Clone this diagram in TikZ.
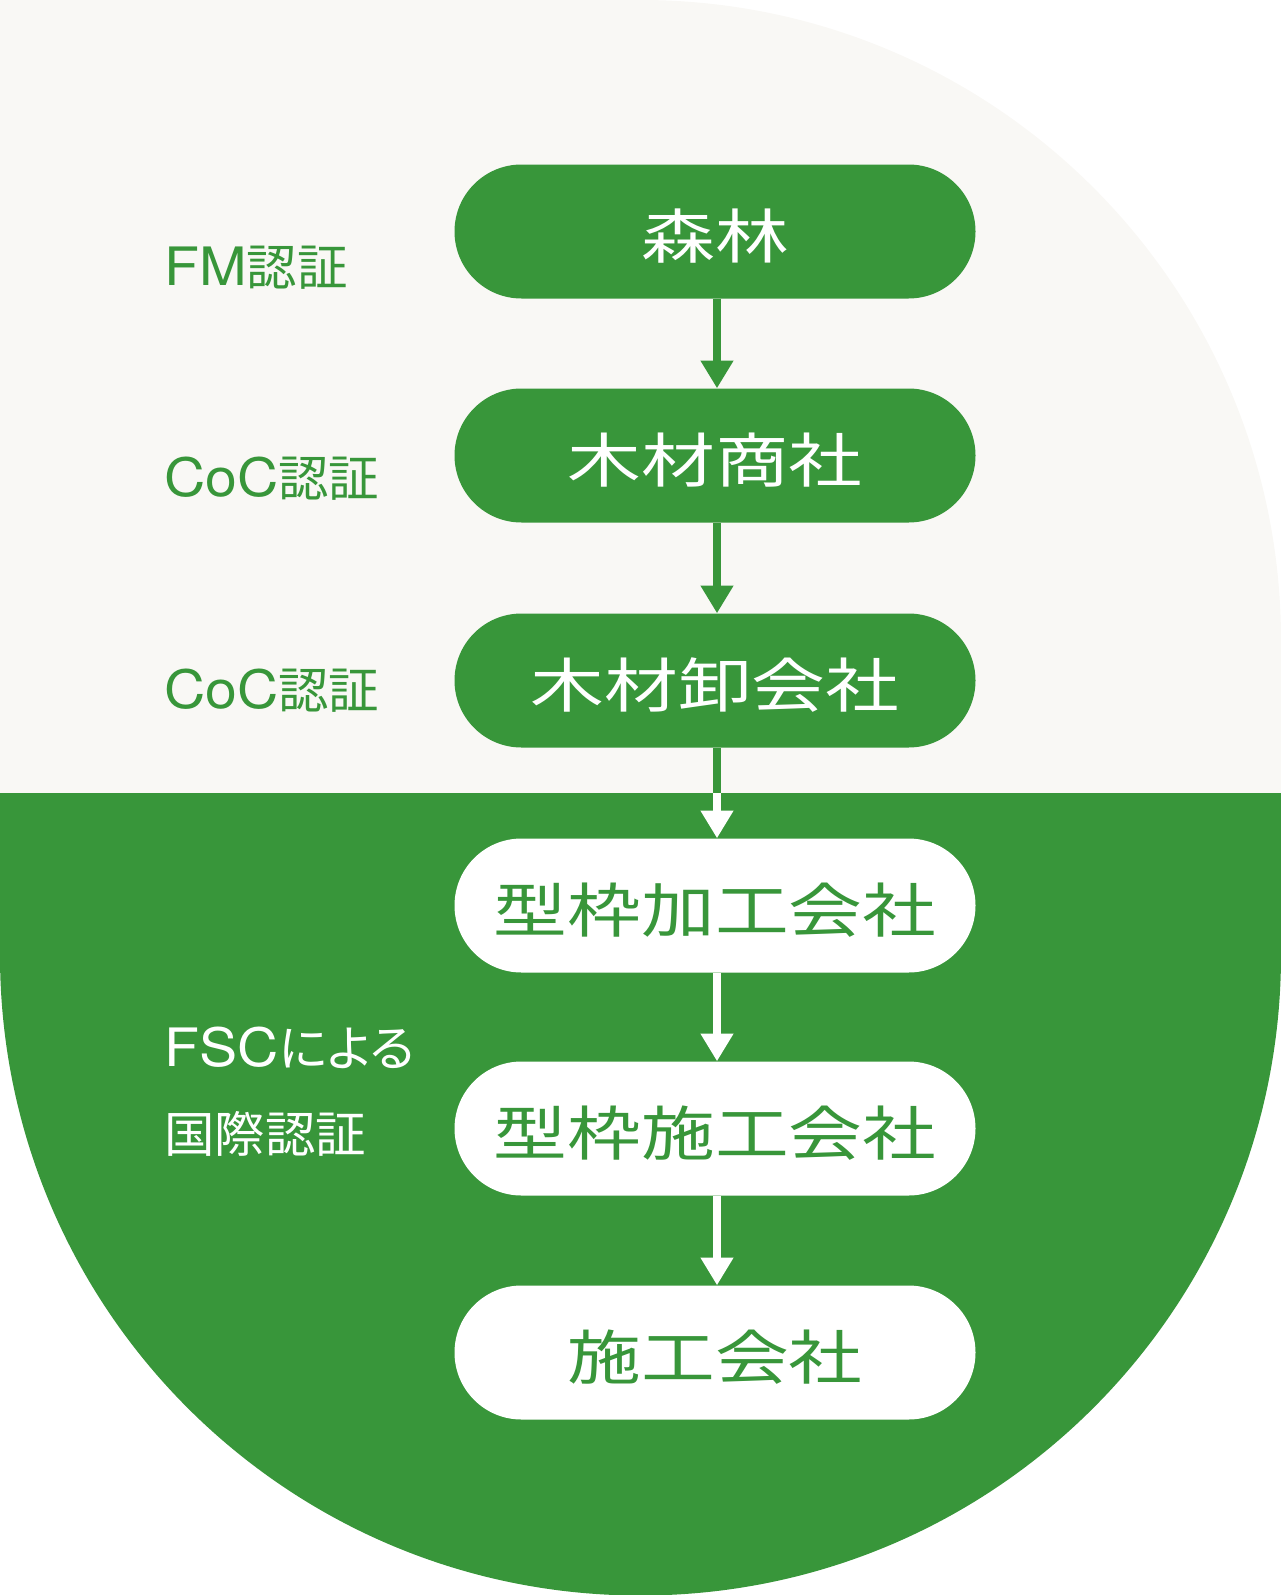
\documentclass[tikz,border=0pt]{standalone}
\usepackage{fontspec}
\usetikzlibrary{arrows.meta}
\newfontfamily\jpfont[RawFeature=+palt, FakeStretch=1.03]{Noto Sans CJK JP}
\newfontfamily\boxfont[FakeStretch=1.25]{Noto Sans CJK JP}
\newfontfamily\latinfont[Scale=1.08, FakeStretch=1.08]{TeX Gyre Heros}
\definecolor{leaf}{HTML}{38963A}
\definecolor{paper}{HTML}{F9F8F5}
\newcommand{\labfont}{\fontsize{49}{58}\selectfont\jpfont}
\newcommand{\namefont}{\fontsize{59}{70}\selectfont\boxfont}
\newcommand{\lowered}[1]{\raisebox{-5pt}[\height][\depth]{#1}}
\tikzstyle{upbox}=[rectangle, rounded corners=67pt, fill=leaf, text=white
,minimum width=521pt, minimum height=134pt
,inner sep=0pt, font=\namefont
]
\tikzstyle{lowbox}=[upbox, fill=white, text=leaf]
\tikzstyle{edge} = [line width=7.5pt, -{Triangle[width=31pt,length=27.6pt]}]
\tikzstyle{cert}=[anchor=base west, inner sep=0pt, font=\labfont]

\begin{document}
\begin{tikzpicture}[x=1pt,y=-1pt]
    \useasboundingbox (0,0) rectangle (1281,1595);
    % Background: light upper half, green lower half
    \fill[paper] (0,0) -- (640.5,0) arc[start angle=90, end angle=0, radius=640.5pt]
        -- (1281,793) -- (0,793) -- cycle;
    \fill[leaf] (0,793) -- (1281,793) -- (1281,955)
        arc[start angle=0, end angle=-180, radius=640.5pt] -- cycle;
    % First we draw the companies
    \foreach \pos/\name/\txt in {{(715,231.5)/forest/森林}, {(715,455.5)/trader/木材商社}, {(715,680.5)/wholesale/木材卸会社}}
        \node[upbox] (\name) at \pos {\lowered{\txt}};
    \foreach \pos/\name/\txt in {{(715,905.5)/framer/型枠加工会社}, {(715,1128.5)/erector/型枠施工会社}, {(715,1352.5)/builder/施工会社}}
        \node[lowbox] (\name) at \pos {\lowered{\txt}};
    % Connect companies with arrows
    \foreach \source/\dest in {forest/trader, trader/wholesale}
        \path[edge, draw=leaf] ([xshift=2pt]\source.south) -- ([xshift=2pt]\dest.north);
    \foreach \source/\dest in {wholesale/framer, framer/erector, erector/builder}
        \path[edge, draw=white] ([xshift=2pt]\source.south) -- ([xshift=2pt]\dest.north);
    \coordinate (split) at (717,793);
    \path[draw=leaf, line width=7.5pt] ([xshift=2pt]wholesale.south) -- (split);
    % Certification labels
    \node[cert, text=leaf] (fm) at (164,285) {{\latinfont FM}認証};
    \node[cert, text=leaf] (coca) at (164,496.5) {{\latinfont CoC}認証};
    \node[cert, text=leaf] (cocb) at (164,708) {{\latinfont CoC}認証};
    \node[cert, text=white] (fsca) at (164,1066) {{\latinfont FSC}による};
    \node[cert, text=white] (fscb) at (164,1152) {国際認証};
\end{tikzpicture}
\end{document}
